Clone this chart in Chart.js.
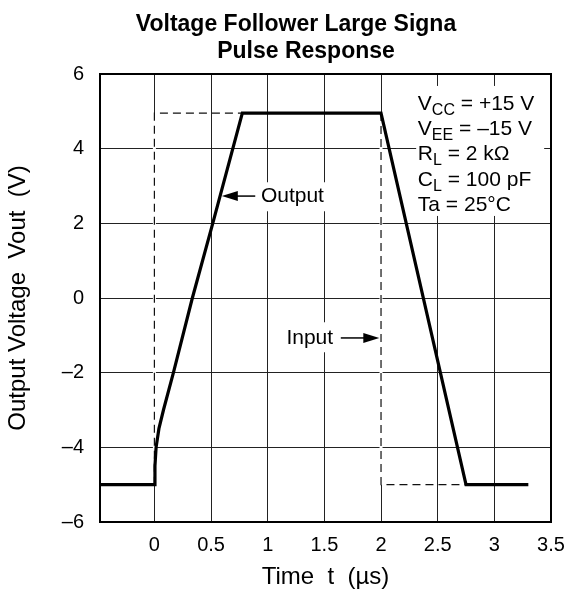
<!DOCTYPE html>
<html>
<head>
<meta charset="utf-8">
<script src="https://cdn.jsdelivr.net/npm/chart.js@4.4.1/dist/chart.umd.min.js"></script>
<style>
  html, body { margin: 0; padding: 0; background: #fff; }
  #wrap { width: 568px; height: 595px; }
</style>
</head>
<body>
<div id="wrap"><canvas id="pulseChart"></canvas></div>
<script>
// values (time in us, voltage in V)
const outputTime = [-0.48, 0, 0.005, 0.015, 0.04, 0.08, 0.168, 0.335, 0.515, 0.776, 2.0, 2.75, 3.3];
const outputVolt = [-5, -5, -4.5, -4, -3.5, -3, -2, 0, 2, 4.95, 4.95, -5, -5];
const inputTime = [0, 0, 2, 2, 3.3];
const inputVolt = [-5, 4.95, 4.95, -5, -5];

const xTicks = [0, 0.5, 1, 1.5, 2, 2.5, 3, 3.5];
const yTicks = [-6, -4, -2, 0, 2, 4, 6];

const titleLines = ["Voltage Follower Large Signa", "Pulse Response"];
const conditions = [
  ["V", "CC", " = +15 V"],
  ["V", "EE", " = \u201315 V"],
  ["R", "L", " = 2 k\u03a9"],
  ["C", "L", " = 100 pF"],
  ["Ta", "", " = 25\u00b0C"]
];

const FONT = "'Liberation Sans', Arial, Helvetica, sans-serif";

function fmtMinus(v) {
  return v < 0 ? "\u2013" + Math.abs(v) : String(v);
}

function drawArrow(ctx, x1, y, x2) {
  // line from x1 to tip at x2, filled head at the tip
  const dir = x2 > x1 ? 1 : -1;
  ctx.beginPath();
  ctx.moveTo(x1, y);
  ctx.lineTo(x2 - dir * 12, y);
  ctx.lineWidth = 1.5;
  ctx.strokeStyle = "#000";
  ctx.stroke();
  ctx.beginPath();
  ctx.moveTo(x2, y);
  ctx.lineTo(x2 - dir * 16, y - 5);
  ctx.lineTo(x2 - dir * 16, y + 5);
  ctx.closePath();
  ctx.fillStyle = "#000";
  ctx.fill();
}

const annotations = {
  id: "annotations",
  beforeDatasetsDraw(chart) {
    const ctx = chart.ctx;
    const xs = chart.scales.x, ys = chart.scales.y;
    ctx.save();
    ctx.fillStyle = "#fff";
    // blank out grid behind the labels
    const bx = xs.getPixelForValue(2.31), by = ys.getPixelForValue(5.68);
    ctx.fillRect(bx, by, 128, 130);
    ctx.fillRect(xs.getPixelForValue(0.93), ys.getPixelForValue(3.1), 70, 29);
    ctx.fillRect(xs.getPixelForValue(1.15), ys.getPixelForValue(-0.65), 52, 30);
    // the dashed input edges sit on grid lines: clear them so the dashes show
    ctx.strokeStyle = "#fff";
    ctx.lineWidth = 3;
    for (let i = 1; i < inputTime.length; i++) {
      if (inputTime[i] === inputTime[i - 1]) {
        const x = xs.getPixelForValue(inputTime[i]);
        ctx.beginPath();
        ctx.moveTo(x, ys.getPixelForValue(inputVolt[i - 1]));
        ctx.lineTo(x, ys.getPixelForValue(inputVolt[i]));
        ctx.stroke();
      }
    }
    ctx.restore();
  },
  afterDatasetsDraw(chart) {
    const ctx = chart.ctx;
    const area = chart.chartArea;
    const xs = chart.scales.x, ys = chart.scales.y;
    ctx.save();

    // frame
    ctx.lineWidth = 2;
    ctx.strokeStyle = "#000";
    ctx.strokeRect(area.left, area.top, area.right - area.left, area.bottom - area.top);

    ctx.fillStyle = "#000";
    ctx.textBaseline = "alphabetic";

    // title
    ctx.font = "bold 23px " + FONT;
    ctx.textAlign = "center";
    ctx.fillText(titleLines[0], 296, 31);
    ctx.fillText(titleLines[1], 306, 58);

    // test conditions
    ctx.textAlign = "left";
    let tx = xs.getPixelForValue(2.325);
    let ty = ys.getPixelForValue(5.04);
    conditions.forEach(function (c) {
      let x = tx;
      ctx.font = "21px " + FONT;
      ctx.fillText(c[0], x, ty);
      x += ctx.measureText(c[0]).width;
      if (c[1]) {
        ctx.font = "16px " + FONT;
        ctx.fillText(c[1], x, ty + 5);
        x += ctx.measureText(c[1]).width;
      }
      ctx.font = "21px " + FONT;
      ctx.fillText(c[2], x, ty);
      ty += 25.3;
    });

    // Output label + arrow
    const oy = ys.getPixelForValue(2.73);
    ctx.font = "21px " + FONT;
    ctx.textBaseline = "middle";
    ctx.fillText("Output", xs.getPixelForValue(0.94), oy);
    drawArrow(ctx, xs.getPixelForValue(0.89), oy, xs.getPixelForValue(0.595));

    // Input label + arrow
    const iy = ys.getPixelForValue(-1.07);
    ctx.fillText("Input", xs.getPixelForValue(1.165), iy);
    drawArrow(ctx, xs.getPixelForValue(1.645), iy, xs.getPixelForValue(1.985));

    ctx.restore();
  }
};

new Chart(document.getElementById("pulseChart"), {
  type: "scatter",
  data: {
    datasets: [
      {
        label: "Output",
        data: outputTime.map((t, i) => ({ x: t, y: outputVolt[i] })),
        showLine: true,
        borderColor: "#000",
        borderWidth: 3.2,
        pointRadius: 0,
        tension: 0,
        borderJoinStyle: "miter"
      },
      {
        label: "Input",
        data: inputTime.map((t, i) => ({ x: t, y: inputVolt[i] })),
        showLine: true,
        borderColor: "#111",
        borderWidth: 1.2,
        borderDash: [8, 5],
        pointRadius: 0,
        tension: 0
      }
    ]
  },
  options: {
    responsive: true,
    maintainAspectRatio: false,
    animation: false,
    layout: { padding: { top: 74, right: 17, left: 0, bottom: 0 } },
    plugins: {
      legend: { display: false },
      tooltip: { enabled: false },
      title: { display: false }
    },
    scales: {
      x: {
        type: "linear",
        min: -0.48,
        max: 3.5,
        afterBuildTicks: function (scale) {
          scale.ticks = xTicks.map(v => ({ value: v }));
        },
        afterFit: function (scale) {
          scale.height = 73;
          scale.paddingLeft = 0;
          scale.paddingRight = 0;
        },
        grid: { color: "#222", lineWidth: 1, drawTicks: false },
        border: { display: false },
        ticks: {
          padding: 11,
          color: "#000",
          font: { family: FONT, size: 20 },
          maxRotation: 0,
          autoSkip: false,
          callback: v => String(v)
        },
        title: {
          display: true,
          text: "Time  t  (\u00b5s)",
          color: "#000",
          font: { family: FONT, size: 24 },
          padding: { top: 0, bottom: 3 }
        }
      },
      y: {
        type: "linear",
        min: -6,
        max: 6,
        afterBuildTicks: function (scale) {
          scale.ticks = yTicks.map(v => ({ value: v }));
        },
        afterFit: function (scale) {
          scale.width = 100;
          scale.paddingTop = 0;
          scale.paddingBottom = 0;
        },
        grid: { color: "#222", lineWidth: 1, drawTicks: false },
        border: { display: false },
        ticks: {
          padding: 16,
          color: "#000",
          font: { family: FONT, size: 20 },
          callback: v => fmtMinus(v)
        },
        title: {
          display: true,
          text: "Output Voltage  Vout  (V)",
          color: "#000",
          font: { family: FONT, size: 24 },
          padding: { top: 4, bottom: 0 }
        }
      }
    }
  },
  plugins: [annotations]
});
</script>
</body>
</html>
